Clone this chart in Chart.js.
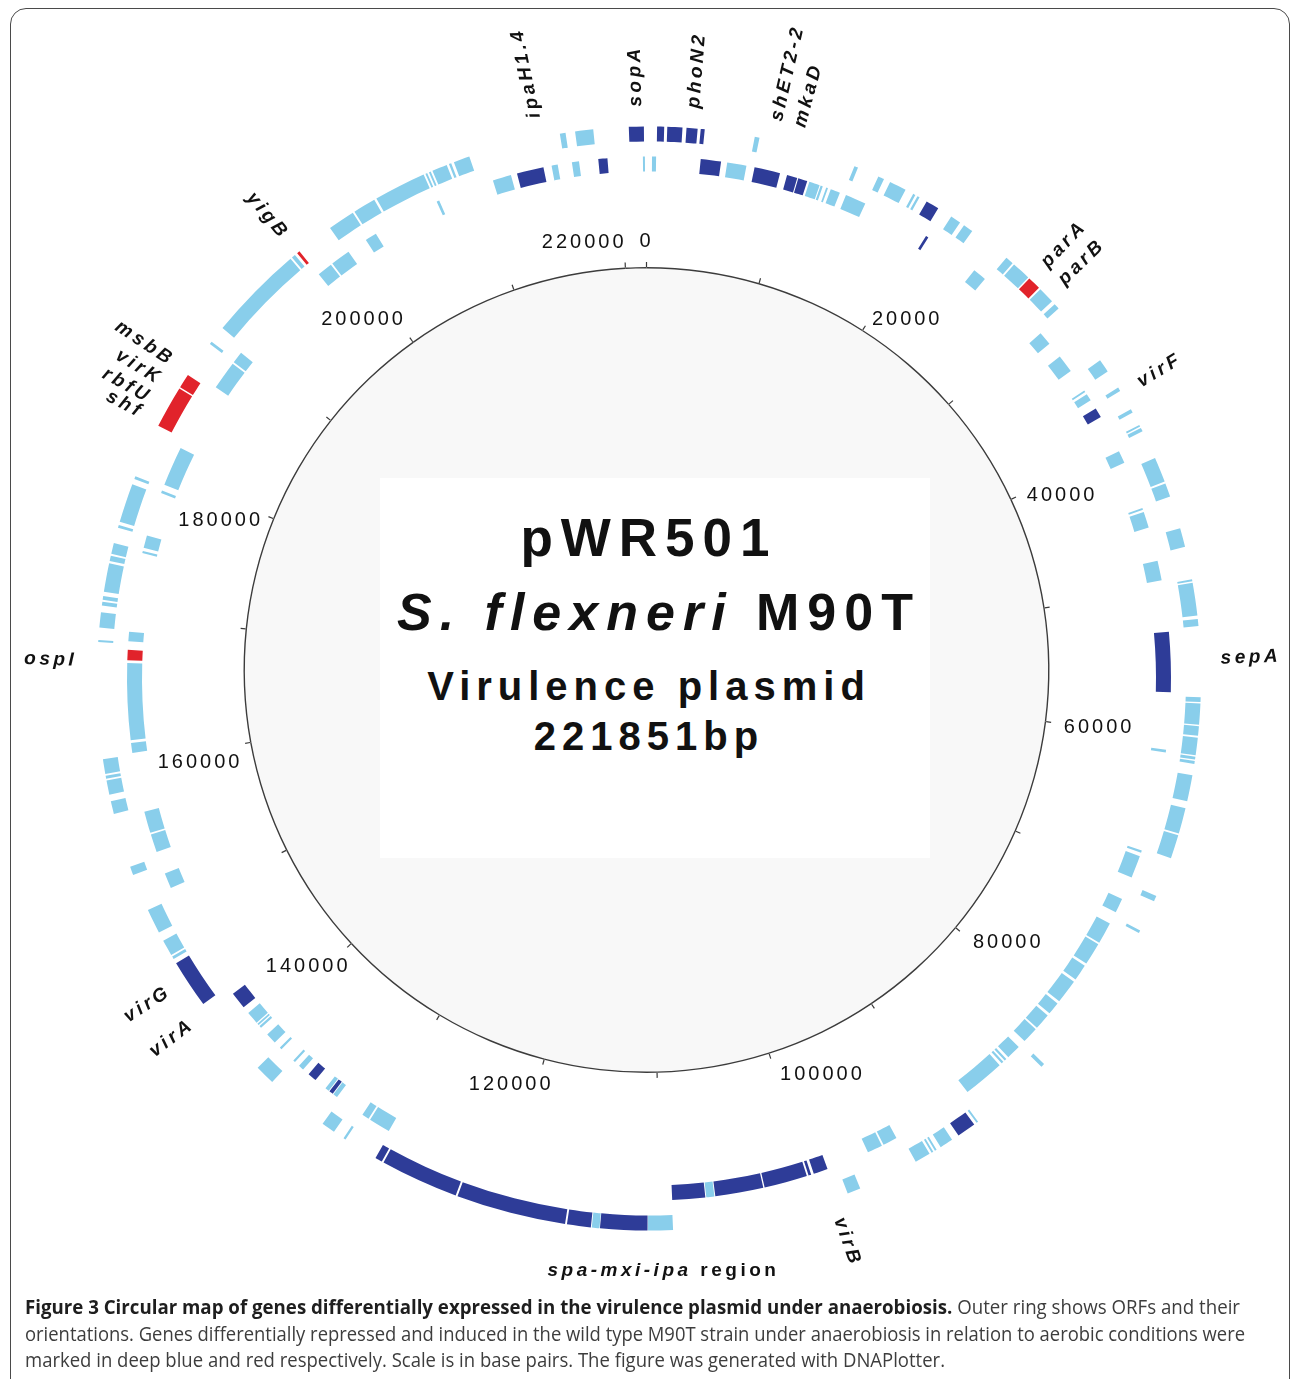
<!DOCTYPE html>
<html lang="en">
<head>
<meta charset="UTF-8">
<title>pWR501 circular map</title>
<script src="https://cdn.jsdelivr.net/npm/chart.js"></script>
<style>
    html, body { margin: 0; padding: 0; background: #fff; }
    body {
        width: 1290px; height: 1379px; position: relative; overflow: hidden;
        font-family: 'Liberation Sans', Arial, sans-serif;
    }
    .frame {
        position: absolute; left: 10px; top: 8px; width: 1280px; height: 1420px;
        border: 1.5px solid #4a4a4a; border-radius: 16px; box-sizing: border-box;
    }
    canvas { position: absolute; left: 0; top: 0; }
    .plate { position: absolute; left: 380px; top: 478px; width: 550px; height: 380px; background: #fff; }
    .ctext {
        position: absolute; transform: translateX(-50%); white-space: nowrap;
        font-weight: bold; line-height: 1; color: #111;
    }
    .caption {
        position: absolute; left: 25px; top: 1294px; font-family: 'Open Sans', sans-serif;
        font-size: 20px; line-height: 26.5px; color: #3d3d3d;
    }
    .caption div { white-space: nowrap; width: max-content; transform-origin: 0 50%; }
    .caption b { color: #1e1e1e; }
</style>
</head>
<body>
<div class="frame"></div>
<canvas id="ringChart" width="1290" height="1379"></canvas>
<canvas id="scaleChart" width="1290" height="1379"></canvas>
<div class="plate"></div>
<div class="ctext" style="left:645px; top:511px; font-size:53px; letter-spacing:8px; padding-left:8px;">pWR501</div>
<div class="ctext" style="left:655px; top:586px; font-size:52px; letter-spacing:8px; padding-left:8px;"><i>S. flexneri</i> M90T</div>
<div class="ctext" style="left:646px; top:666px; font-size:40px; letter-spacing:6px; padding-left:6px;">Virulence plasmid</div>
<div class="ctext" style="left:646px; top:716px; font-size:40px; letter-spacing:6px; padding-left:6px;">221851bp</div>
<div class="caption">
    <div data-w="1215"><b>Figure 3 Circular map of genes differentially expressed in the virulence plasmid under anaerobiosis.</b> Outer ring shows ORFs and their</div>
    <div data-w="1220">orientations. Genes differentially repressed and induced in the wild type M90T strain under anaerobiosis in relation to aerobic conditions were</div>
    <div data-w="920">marked in deep blue and red respectively. Scale is in base pairs. The figure was generated with DNAPlotter.</div>
</div>

<script>
    const plasmidLength = 221851;
    const kindColors = { L: '#89ceeb', D: '#2e3c98', R: '#e1232b' };

    // outer ring (forward ORFs): start, end in bp and colour class
    const outerStart = [518, 1171, 2403, 3315, 6810, 13465, 15129, 15961, 17625, 17933, 18611, 20460, 21446, 24866, 25513, 26838,
        27824, 29149, 33771, 35866, 37468, 38608, 38824, 40950, 42706, 45726, 49084, 49300, 51642, 56664, 57065, 58513,
        59253, 60485, 60763, 61687, 63844, 65631, 69760, 72194, 82763, 88371, 88679, 90404, 91575, 91822, 92099, 97060,
        109385, 111018, 114100, 114654, 116318, 123559, 128766, 131478, 132371, 137455, 144111, 147561, 147869, 149503,
        153539, 157638, 158901, 159948, 160256, 168730, 169654, 171072, 171442, 171965, 173968, 174430, 176156, 176557,
        179453, 183181, 186017, 189374, 190669, 197017, 197448, 200097, 201977, 203610, 207123, 207369, 207616, 208756,
        209095, 216120, 217106, 220557];
    const outerEnd = [974, 2145, 3118, 3574, 7118, 13712, 15530, 17070, 17779, 18087, 19474, 21137, 22093, 25390, 26745, 27701,
        28902, 29519, 34633, 36112, 37715, 38731, 39070, 42583, 43600, 46959, 49207, 51426, 52104, 56972, 58421, 59130,
        60393, 60670, 60947, 63382, 65507, 67172, 70130, 72379, 83009, 88494, 89911, 91267, 91698, 91945, 93116, 97923,
        110987, 114069, 114593, 116195, 123436, 128643, 129229, 131632, 133265, 138749, 147254, 147746, 148917, 151106,
        154093, 158470, 159825, 160133, 161212, 168853, 170640, 171318, 171688, 173814, 174307, 175139, 176341, 179083,
        179638, 185924, 186941, 189559, 196893, 197263, 197633, 201853, 203456, 206999, 207246, 207493, 208602, 208910,
        210143, 216490, 218277, 221524];
    const outerKind = ['D', 'D', 'D', 'D', 'L', 'L', 'L', 'L', 'L', 'L', 'D', 'L', 'L', 'L', 'L', 'R',
        'L', 'L', 'L', 'L', 'L', 'L', 'L', 'L', 'L', 'L', 'L', 'L', 'L', 'L', 'L', 'L',
        'L', 'L', 'L', 'L', 'L', 'L', 'L', 'L', 'L', 'L', 'D', 'L', 'L', 'L', 'L', 'L',
        'L', 'D', 'L', 'D', 'D', 'D', 'D', 'L', 'L', 'L', 'D', 'L', 'L', 'L',
        'L', 'L', 'L', 'L', 'L', 'L', 'L', 'L', 'L', 'L', 'L', 'L', 'L', 'L',
        'L', 'R', 'R', 'L', 'L', 'L', 'R', 'L', 'L', 'L', 'L', 'L', 'L', 'L',
        'L', 'L', 'L', 'D'];

    // inner ring (reverse ORFs)
    const innerStart = [203, 3506, 5312, 7192, 9453, 10242, 11025, 11832, 12233, 12559, 13662, 19751, 23757, 29950, 31984, 34818,
        35126, 36267, 39563, 43723, 44000, 47421, 52289, 60300, 67325, 67727, 70869, 72718, 74320, 76046, 77340, 79188,
        80236, 81469, 83133, 84303, 84581, 84920, 93486, 94595, 98600, 99771, 100080, 103130, 106489, 107105, 129352,
        130954, 133541, 133911, 134250, 135391, 136500, 137240, 138503, 139150, 140506, 140752, 140968, 142324, 151814,
        154433, 155789, 161335, 162198, 167621, 168915, 174954, 175324, 179207, 179823, 187279, 189374, 197663, 198834,
        201607, 207061, 211129, 212823, 215221, 216613, 218412, 221438];
    const innerEnd = [481, 4893, 6631, 8960, 10168, 10877, 11758, 11986, 12356, 13219, 15086, 19936, 24681, 30874, 33216, 34941,
        35619, 36945, 40426, 43846, 45109, 48776, 56387, 60485, 67480, 69267, 71855, 74197, 75861, 77155, 79003, 80051,
        81345, 82578, 84119, 84457, 84735, 87755, 94472, 95643, 99586, 99956, 103038, 106427, 107043, 109355, 130831,
        131447, 133849, 134188, 134527, 136007, 136870, 137394, 138657, 139890, 140660, 140876, 141831, 143495, 152862,
        155666, 157268, 162013, 167436, 168330, 169562, 175108, 176187, 179392, 182534, 189251, 190175, 198711, 200190,
        202408, 207246, 212398, 214659, 215640, 217100, 219035, 221574];
    const innerKind = ['L', 'D', 'L', 'D', 'D', 'D', 'L', 'L', 'L', 'L', 'L', 'D', 'L', 'L', 'L', 'L',
        'L', 'D', 'L', 'L', 'L', 'L', 'D', 'L', 'L', 'L', 'L', 'L', 'L', 'L', 'L', 'L',
        'L', 'L', 'L', 'L', 'L', 'L', 'L', 'L', 'D', 'D', 'D', 'D', 'L', 'D', 'L',
        'L', 'L', 'D', 'L', 'D', 'L', 'L', 'L', 'L', 'L', 'L', 'L', 'D', 'L',
        'L', 'L', 'L', 'L', 'R', 'L', 'L', 'L', 'L', 'L', 'L', 'L', 'L', 'L',
        'L', 'L', 'L', 'D', 'L', 'L', 'D', 'L'];

    // scale: ticks every 10 kb, labelled every 20 kb
    const tickValues = [0, 10000, 20000, 30000, 40000, 50000, 60000, 70000, 80000, 90000, 100000, 110000,
        120000, 130000, 140000, 150000, 160000, 170000, 180000, 190000, 200000, 210000, 220000];
    const tickLabels = ['0', '', '20000', '', '40000', '', '60000', '', '80000', '', '100000', '',
        '120000', '', '140000', '', '160000', '', '180000', '', '200000', '', '220000'];

    // gene names and the bp position they point at
    const geneLabels = ['ipaH1.4', 'sopA', 'phoN2', 'shET2-2', 'mkaD', 'parA', 'parB', 'virF', 'sepA', 'virB',
        'virA', 'virG', 'ospI', 'shf', 'rbfU', 'virK', 'msbB', 'yigB'];
    const geneLabelPos = [214763, 221050, 2773, 7950, 9429, 26930, 28409, 36297, 54230, 98970,
        143587, 146052, 167498, 183397, 184444, 185738, 187095, 197510];
    const regionLabelPos = 110064;

    const clear = 'rgba(0,0,0,0)';

    function buildRing(starts, ends, kinds) {
        const data = [];
        const colors = [];
        let pos = 0;
        starts.forEach((s, i) => {
            data.push(s - pos); colors.push(clear);
            data.push(ends[i] - s); colors.push(kindColors[kinds[i]]);
            pos = ends[i];
        });
        data.push(plasmidLength - pos); colors.push(clear);
        return { data, backgroundColor: colors, borderWidth: 0, hoverOffset: 0 };
    }

    const geneLabelPlugin = {
        id: 'geneLabels',
        afterDatasetsDraw(chart) {
            const first = chart.getDatasetMeta(0).data[0];
            const cx = first.x, cy = first.y;
            const r0 = first.outerRadius + 20;
            const ctx = chart.ctx;
            ctx.save();
            ctx.fillStyle = '#111';
            ctx.letterSpacing = '3.5px';
            ctx.textBaseline = 'middle';
            ctx.font = 'italic bold 19px "Liberation Sans", Arial, sans-serif';
            geneLabels.forEach((txt, i) => {
                const deg = geneLabelPos[i] / plasmidLength * 360;
                const a = (deg - 90) * Math.PI / 180;
                const out = deg < 180 || deg > 340;
                ctx.save();
                ctx.translate(cx + r0 * Math.cos(a), cy + r0 * Math.sin(a));
                ctx.rotate(out ? a : a - Math.PI);
                ctx.textAlign = out ? 'left' : 'right';
                ctx.fillText(txt, 0, 0);
                ctx.restore();
            });

            // "spa-mxi-ipa region" sits flat under the ring
            const ra = (regionLabelPos / plasmidLength * 360 - 90) * Math.PI / 180;
            const rr = first.outerRadius + 40;
            const px = cx + rr * Math.cos(ra), py = cy + rr * Math.sin(ra);
            const italicFont = 'italic bold 19px "Liberation Sans", Arial, sans-serif';
            const plainFont = 'bold 19px "Liberation Sans", Arial, sans-serif';
            ctx.font = italicFont;
            const w1 = ctx.measureText('spa-mxi-ipa ').width;
            ctx.font = plainFont;
            const w2 = ctx.measureText('region').width;
            ctx.textAlign = 'left';
            const x0 = px - (w1 + w2) / 2;
            ctx.font = italicFont;
            ctx.fillText('spa-mxi-ipa ', x0, py);
            ctx.font = plainFont;
            ctx.fillText('region', x0 + w1, py);
            ctx.restore();
        }
    };

    // nudge of the scale numbers, DNAPlotter puts them a little unevenly
    function labelShift(ca, sa) {
        if (Math.abs(ca) < 0.05) return [0, -8.5];
        if (ca > 0) return [6 * Math.max(sa, 0), 4];
        const dy = sa >= 0.2 ? 16.5 - 11 * (sa - 0.2) : Math.max(16.5 - 25 * (0.2 - sa) ** 2, -8.5);
        return [8 + 6 * sa, dy];
    }

    const scalePlugin = {
        id: 'scaleMarks',
        beforeDatasetsDraw(chart) {
            const arc = chart.getDatasetMeta(0).data[0];
            const ctx = chart.ctx;
            ctx.save();
            ctx.beginPath();
            ctx.arc(arc.x, arc.y, arc.innerRadius, 0, Math.PI * 2);
            ctx.fillStyle = '#f8f8f8';
            ctx.fill();
            ctx.restore();
        },
        afterDatasetsDraw(chart) {
            const ctx = chart.ctx;
            const arcs = chart.getDatasetMeta(0).data;
            ctx.save();
            ctx.strokeStyle = '#3a3a3a';
            ctx.lineWidth = 1.2;
            ctx.fillStyle = '#111';
            ctx.font = '20px "Liberation Sans", Arial, sans-serif';
            ctx.letterSpacing = '3px';
            ctx.textBaseline = 'middle';
            arcs.forEach((arc, i) => {
                const a = arc.startAngle, r = arc.outerRadius;
                const ca = Math.cos(a), sa = Math.sin(a);
                ctx.beginPath();
                ctx.moveTo(arc.x + r * ca, arc.y + r * sa);
                ctx.lineTo(arc.x + (r + 5) * ca, arc.y + (r + 5) * sa);
                ctx.stroke();
                const label = tickLabels[i];
                if (!label) return;
                const lr = r + 17;
                const [dx, dy] = labelShift(ca, sa);
                ctx.textAlign = Math.abs(ca) < 0.05 ? 'center' : (ca > 0 ? 'left' : 'right');
                ctx.fillText(label, arc.x + lr * ca + dx, arc.y + lr * sa + dy);
            });
            ctx.restore();
        }
    };

    function initCharts() {
        new Chart(document.getElementById('ringChart'), {
            type: 'doughnut',
            data: {
                datasets: [
                    buildRing(outerStart, outerEnd, outerKind),
                    { data: [plasmidLength], backgroundColor: [clear], borderWidth: 0 },
                    buildRing(innerStart, innerEnd, innerKind)
                ]
            },
            options: {
                responsive: false,
                animation: false,
                events: [],
                radius: 552,
                cutout: (507 / 552 * 100) + '%',
                layout: { padding: { left: 97, right: 89, top: 126.5, bottom: 148.5 } },
                plugins: { legend: { display: false }, tooltip: { enabled: false } }
            },
            plugins: [geneLabelPlugin]
        });

        const segments = tickValues.map((v, i) => (i + 1 < tickValues.length ? tickValues[i + 1] : plasmidLength) - v);
        new Chart(document.getElementById('scaleChart'), {
            type: 'doughnut',
            data: {
                datasets: [{
                    data: segments,
                    backgroundColor: '#3c3c3c',
                    borderWidth: 0
                }]
            },
            options: {
                responsive: false,
                animation: false,
                events: [],
                radius: 403,
                cutout: (401.6 / 403 * 100) + '%',
                layout: { padding: { left: 243.5, right: 240.5, top: 267, bottom: 306 } },
                plugins: { legend: { display: false }, tooltip: { enabled: false } }
            },
            plugins: [scalePlugin]
        });
    }

    function fitCaption() {
        document.querySelectorAll('.caption div').forEach(line => {
            const target = Number(line.dataset.w);
            line.style.transform = `scaleX(${target / line.getBoundingClientRect().width})`;
        });
    }

    document.addEventListener('DOMContentLoaded', () => {
        initCharts();
        fitCaption();
    });
</script>
</body>
</html>
